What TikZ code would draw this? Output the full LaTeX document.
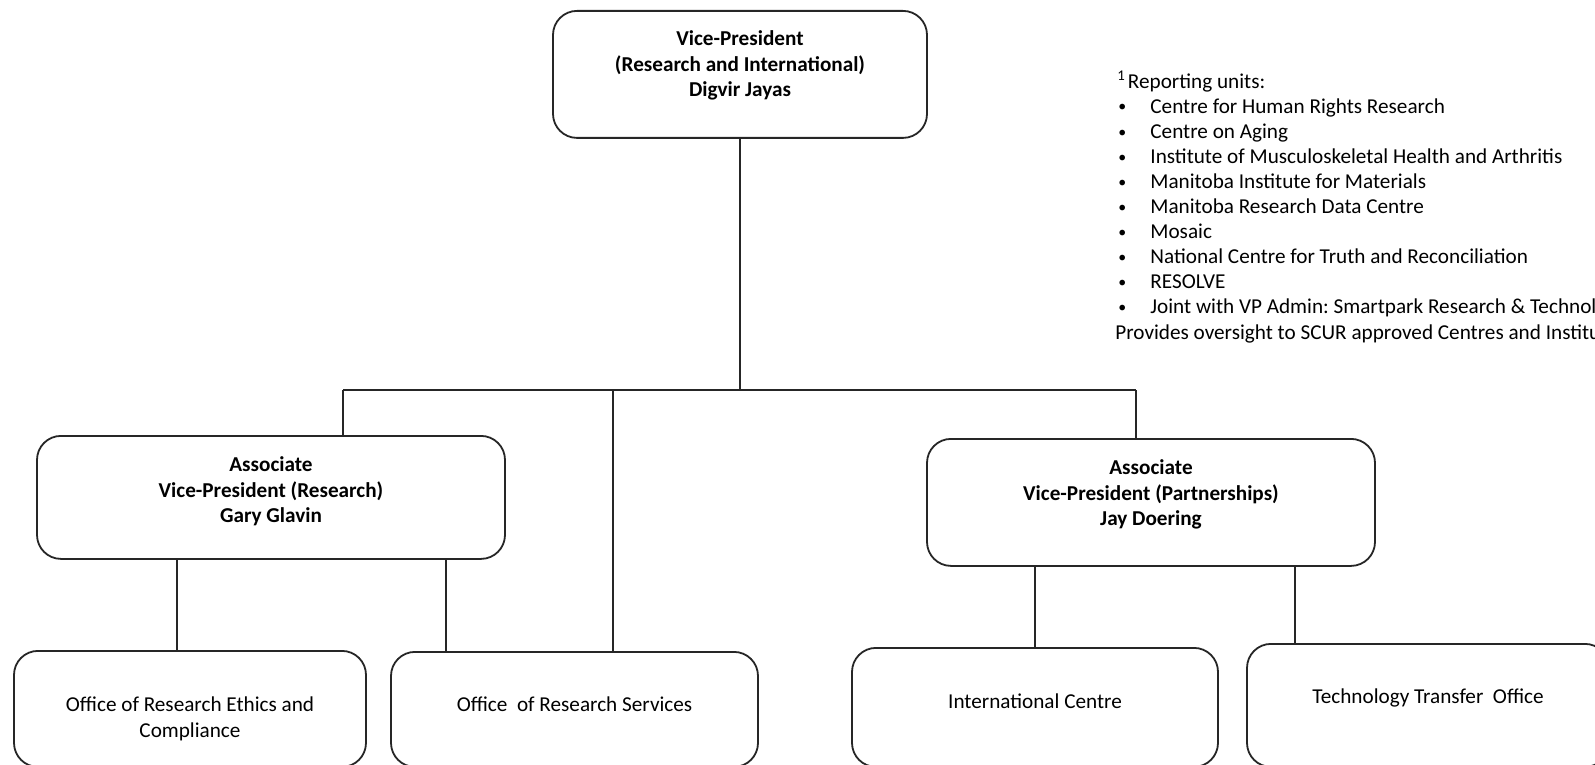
\documentclass[tikz,border=0pt]{standalone}
\usepackage{fontspec}
\setmainfont{Carlito}
\usepackage{graphicx}
\usepackage{tikz}
\frenchspacing
\newcommand{\unitdot}{\kern1.5pt\makebox[16pt][l]{\raisebox{0.6pt}{\scalebox{0.75}{\textbullet}}}}
\tikzset{
    unit/.style={draw=black!85, line width=0.9pt, rounded corners=12pt, align=center,
        inner xsep=0pt, inner ysep=0pt, anchor=north, text=black,
        font=\fontsize{10.6}{12.6}\selectfont},
    head/.style={unit, font=\fontsize{10.6}{12.6}\selectfont\bfseries},
    link/.style={draw=black!85, line width=0.9pt}}

\begin{document}
\begin{tikzpicture}[x=0.5pt, y=-0.5pt]

                    \useasboundingbox (0,0) rectangle (1595,765);
                    \clip (0,0) rectangle (1595,765);

                    \node[head, minimum width=187pt, text height=42.7pt, text depth=20.8pt] (vp) at (740,10) {Vice-President\\(Research and International)\\Digvir Jayas};
                    \node[head, minimum width=234pt, text height=43.2pt, text depth=18.3pt] (avpr) at (271,435) {Associate\\Vice-President (Research)\\Gary Glavin};
                    \node[head, minimum width=224pt, text height=43.2pt, text depth=20.3pt] (avpp) at (1151,438) {Associate\\Vice-President (Partnerships)\\Jay Doering};
                    \node[unit, minimum width=176pt, text height=43.1pt, text depth=14.9pt] (ethics) at (190,650) {Office of Research Ethics and\\Compliance};
                    \node[unit, minimum width=183.5pt, text height=30pt, text depth=27.5pt] (ors) at (574.5,651) {Office\ \ of Research Services};
                    \node[unit, minimum width=183pt, text height=30.5pt, text depth=29pt] (intl) at (1035,647) {International Centre};
                    \node[unit, minimum width=181pt, text height=30pt, text depth=31.5pt] (tto) at (1428,643) {Technology Transfer\ \ Office};

                    % reporting units
                    \node[anchor=base west, align=left, inner sep=0pt, font=\fontsize{10.6}{12.55}\selectfont] (units) at (1115,339) {\kern1pt\textsuperscript{1}\kern1pt Reporting units:\\
                        \unitdot Centre for Human Rights Research\\
                        \unitdot Centre on Aging\\
                        \unitdot Institute of Musculoskeletal Health and Arthritis\\
                        \unitdot Manitoba Institute for Materials\\
                        \unitdot Manitoba Research Data Centre\\
                        \unitdot Mosaic\\
                        \unitdot National Centre for Truth and Reconciliation\\
                        \unitdot RESOLVE\\
                        \unitdot Joint with VP Admin: Smartpark Research \& Technology Park\\
                        Provides oversight to SCUR approved Centres and Institutes};

                    \coordinate (busL) at (343,390);
                    \coordinate (busM) at (613,390);
                    \coordinate (busR) at (1136,390);
                    \coordinate (e1) at ([xshift=-6.5pt]ethics.north);
                    \coordinate (o1) at ([xshift=-64.25pt]ors.north);
                    \coordinate (t1) at ([xshift=-66.5pt]tto.north);

                    \draw[link] (vp.south) -- (vp.south |- busL);
                    \draw[link] (busL) -- (busR);
                    \draw[link] (busL) -- (busL |- avpr.north);
                    \draw[link] (busM) -- (busM |- ors.north);
                    \draw[link] (busR) -- (busR |- avpp.north);
                    \draw[link] (e1) -- (e1 |- avpr.south);
                    \draw[link] (o1) -- (o1 |- avpr.south);
                    \draw[link] (intl.north) -- (intl.north |- avpp.south);
                    \draw[link] (t1) -- (t1 |- avpp.south);

                \end{tikzpicture}
\end{document}
